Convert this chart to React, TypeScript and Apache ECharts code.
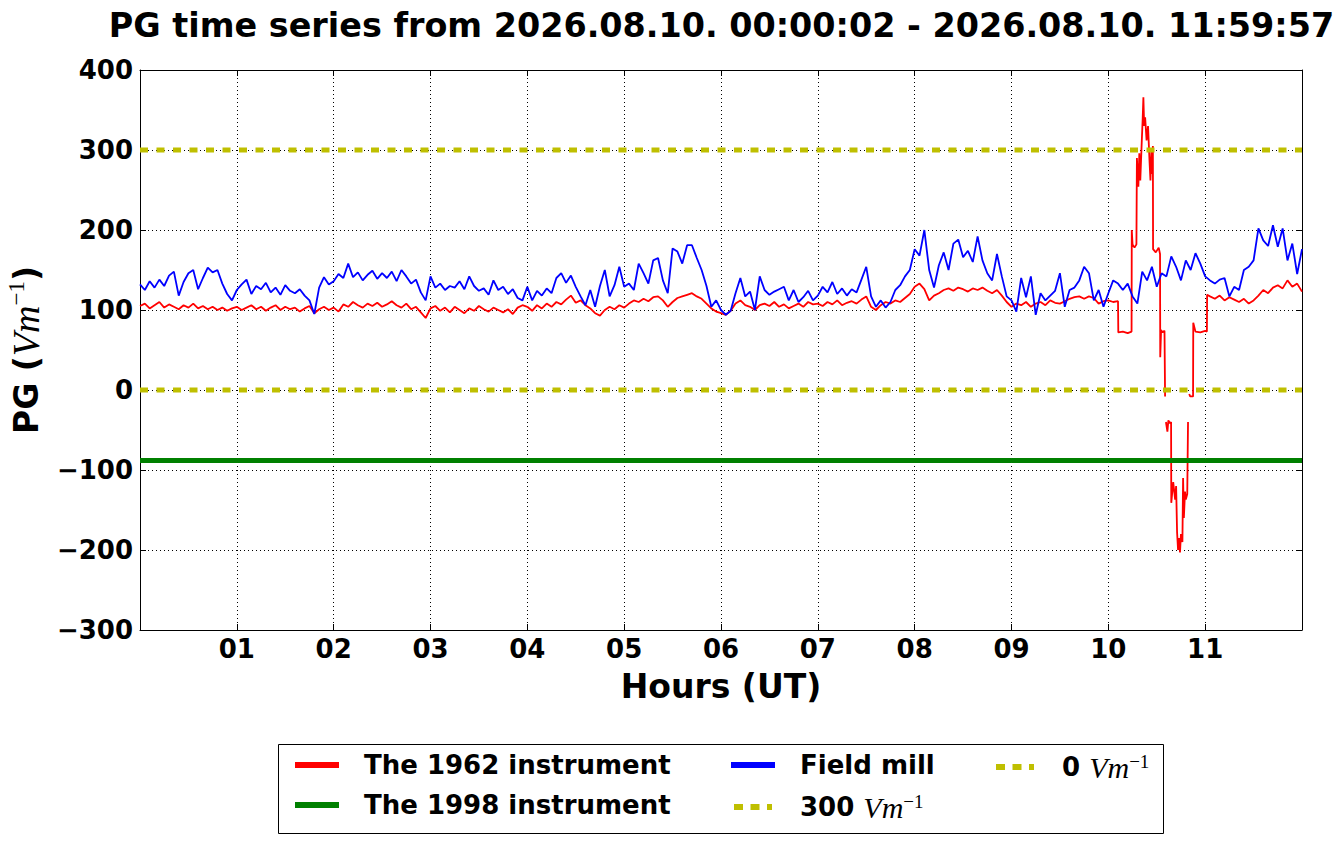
import React, { useEffect, useRef } from 'react';
import * as echarts from 'echarts';

const SANS = 'DejaVu Sans';
const SERIF = 'Liberation Serif';

const TITLE = 'PG time series from 2026.08.10. 00:00:02 - 2026.08.10. 11:59:57';
const hourLabels = ['01', '02', '03', '04', '05', '06', '07', '08', '09', '10', '11'];

// sampling step of the regular arrays: 3 minutes, in hours
const STEP_H = 0.05;

// Field mill, one array per hour (3-minute samples)
const blueH00 = [132, 125, 136, 128, 138, 130, 143, 148, 118, 135, 146, 150, 126, 140, 153, 147, 150, 133, 120, 112];
const blueH01 = [125, 132, 138, 120, 130, 126, 134, 122, 128, 119, 131, 124, 121, 126, 118, 112, 95, 128, 141, 132];
const blueH02 = [136, 145, 140, 158, 141, 147, 137, 144, 149, 139, 146, 140, 148, 136, 150, 142, 133, 138, 122, 112];
const blueH03 = [142, 128, 133, 125, 130, 128, 136, 126, 142, 130, 124, 127, 119, 137, 125, 129, 120, 126, 115, 112];
const blueH04 = [129, 112, 124, 118, 127, 121, 140, 146, 134, 143, 129, 117, 106, 125, 104, 130, 150, 117, 131, 154];
const blueH05 = [129, 133, 125, 158, 146, 133, 162, 165, 137, 121, 177, 173, 158, 181, 181, 165, 150, 130, 104, 112];
const blueH06 = [100, 94, 99, 121, 140, 117, 123, 100, 142, 125, 119, 123, 126, 129, 112, 125, 110, 116, 124, 112];
const blueH07 = [118, 129, 122, 135, 120, 127, 118, 126, 122, 138, 154, 117, 104, 112, 103, 110, 125, 131, 142, 150];
const blueH08 = [176, 168, 200, 150, 128, 156, 172, 150, 183, 188, 166, 174, 160, 192, 162, 146, 137, 170, 142, 117];
const blueH09 = [112, 98, 140, 116, 142, 94, 121, 112, 118, 124, 146, 104, 125, 128, 137, 154, 146, 112, 125, 104];
const blueH10 = [121, 137, 133, 125, 133, 117, 108, 148, 137, 154, 129, 146, 142, 167, 154, 137, 162, 150, 171, 158];
const blueH11 = [142, 137, 133, 138, 140, 117, 129, 125, 150, 154, 162, 202, 187, 180, 206, 179, 202, 162, 183, 145, 176];

// The 1962 instrument, regular part (3-minute samples from 00:00 to 10:05)
const redH00 = [105, 108, 102, 106, 110, 103, 107, 104, 101, 106, 103, 108, 102, 105, 101, 104, 100, 103, 99, 102];
const redH01 = [104, 100, 103, 106, 101, 104, 99, 103, 106, 100, 104, 101, 103, 98, 102, 105, 96, 101, 104, 100];
const redH02 = [103, 98, 107, 104, 110, 106, 103, 108, 105, 109, 104, 107, 111, 106, 103, 108, 101, 104, 97, 90];
const redH03 = [102, 105, 99, 103, 97, 104, 100, 96, 102, 99, 105, 101, 98, 103, 100, 97, 101, 95, 103, 106];
const redH04 = [104, 99, 106, 102, 108, 104, 110, 107, 113, 118, 109, 112, 106, 102, 96, 93, 100, 104, 101, 106];
const redH05 = [103, 108, 112, 110, 114, 111, 116, 117, 112, 104, 110, 115, 117, 119, 121, 117, 114, 108, 102, 98];
const redH06 = [96, 94, 99, 108, 112, 106, 104, 100, 106, 108, 105, 110, 104, 107, 102, 105, 108, 104, 110, 107];
const redH07 = [108, 105, 110, 107, 112, 106, 109, 111, 108, 113, 117, 104, 100, 106, 110, 108, 112, 110, 115, 120];
const redH08 = [129, 133, 126, 112, 118, 121, 125, 127, 124, 128, 126, 123, 127, 125, 128, 124, 121, 125, 118, 110];
const redH09 = [104, 108, 106, 110, 104, 108, 110, 106, 112, 109, 108, 111, 114, 116, 117, 114, 117, 115, 108, 111];
const redH10 = [112, 110];

// The 1962 instrument, disturbed interval [hour, value]; null = missing data
const redEvent: [number, number | null][] = [
  [10.1, 111], [10.103, 72], [10.15, 73], [10.2, 71], [10.24, 73], [10.242, 200], [10.25, 182],
  [10.27, 178], [10.29, 182], [10.295, 290], [10.31, 254], [10.32, 296], [10.33, 262], [10.345, 310],
  [10.355, 340], [10.362, 366], [10.37, 330], [10.38, 341], [10.395, 312], [10.41, 330], [10.425, 287],
  [10.435, 262], [10.445, 300], [10.455, 270], [10.46, 305], [10.462, 176], [10.49, 172], [10.52, 178],
  [10.534, 170], [10.536, 41], [10.545, 75], [10.56, 72], [10.58, 74], [10.586, -8], [10.59, null],
  [10.595, -40], [10.61, -52], [10.62, -38], [10.64, -42], [10.648, -40], [10.65, -141], [10.67, -115],
  [10.69, -137], [10.7, -120], [10.71, -178], [10.72, -200], [10.73, -185], [10.74, -203], [10.75, -180],
  [10.765, -190], [10.772, -110], [10.78, -160], [10.792, -127], [10.8, -137], [10.815, -130],
  [10.823, -40], [10.83, null], [10.835, -5], [10.845, -8], [10.875, -8], [10.877, 84], [10.9, 73],
  [10.95, 72], [11.0, 74], [11.018, 73], [11.02, 119],
];

// The 1962 instrument, after the disturbance (3-minute samples from 11:05 to 12:00)
const redLateStart = 11.05;
const redLate = [117, 114, 118, 112, 116, 113, 110, 114, 108, 112, 118, 125, 121, 128, 131, 127, 137, 129, 133, 123];

// The 1998 instrument and reference levels
const green1998 = -88;
const level300 = 300;
const level0 = 0;

const X_MIN = 0;
const X_MAX = 12;

const tToFixed = (t: number) => Math.round(t * 1000) / 1000;

function buildSeries() {
  const blueAll = [
    ...blueH00, ...blueH01, ...blueH02, ...blueH03, ...blueH04, ...blueH05,
    ...blueH06, ...blueH07, ...blueH08, ...blueH09, ...blueH10, ...blueH11,
  ];
  const blue = blueAll.map((v, i) => [tToFixed(i * STEP_H), v]);
  const redRegular = [
    ...redH00, ...redH01, ...redH02, ...redH03, ...redH04, ...redH05,
    ...redH06, ...redH07, ...redH08, ...redH09, ...redH10,
  ];
  const red: (number | null)[][] = redRegular.map((v, i) => [tToFixed(i * STEP_H), v]);
  redEvent.forEach((p) => red.push([p[0], p[1]]));
  redLate.forEach((v, i) => red.push([tToFixed(redLateStart + i * STEP_H), v]));
  return { blue, red };
}

const dashIcon =
  'path://M0,0h0.01v0.01h-0.01z M3,0h9v6h-9z M19.5,0h9v6h-9z M36,0h5v6h-5z M43.99,5.99h0.01v0.01h-0.01z';

const legendRich = {
  g: { width: 20, fontSize: 26, lineHeight: 30 },
  b: { fontFamily: SANS, fontWeight: 'bold', fontSize: 26, lineHeight: 30, color: '#000' },
  i: { fontFamily: SERIF, fontStyle: 'italic', fontWeight: 'normal', fontSize: 30, lineHeight: 30, color: '#000' },
  s: { fontFamily: SERIF, fontWeight: 'normal', fontSize: 19, lineHeight: 19, verticalAlign: 'top', color: '#000' },
};

const legendLabels: Record<string, string> = {
  'The 1962 instrument': '{g|}{b|The 1962 instrument}',
  'The 1998 instrument': '{g|}{b|The 1998 instrument}',
  'Field mill': '{g|}{b|Field mill}',
  '300 Vm-1': '{g|}{b|300 }{i|Vm}{s|\u22121}',
  '0 Vm-1': '{g|}{b|0 }{i|Vm}{s|\u22121}',
};

function makeLegend(name: string, color: string, icon: string, left: number, top: number) {
  return {
    data: [{ name, icon, itemStyle: { color, borderWidth: 0 } }],
    left,
    top,
    padding: 0,
    itemWidth: 44,
    itemHeight: 6,
    selectedMode: false,
    formatter: (n: string) => legendLabels[n] || n,
    textStyle: { rich: legendRich },
  };
}

export default function App() {
  const ref = useRef<HTMLDivElement>(null);

  useEffect(() => {
    document.body.style.margin = '0';
    const chart = echarts.init(ref.current!, null, { renderer: 'svg' });
    const { blue, red } = buildSeries();

    const commonX = {
      type: 'value',
      min: X_MIN,
      max: X_MAX,
      interval: 1,
    };
    const commonY = {
      type: 'value',
      min: -300,
      max: 400,
      interval: 100,
    };

    const option = {
      animation: false,
      backgroundColor: '#fff',
      textStyle: { fontFamily: SANS },
      title: {
        text: TITLE,
        left: 721.5,
        top: 9,
        padding: 0,
        textAlign: 'center',
        textVerticalAlign: 'top',
        textStyle: { fontFamily: SANS, fontWeight: 'bold', fontSize: 33.4, color: '#000' },
      },
      grid: {
        left: 140,
        top: 70,
        width: 1162,
        height: 560,
        containLabel: false,
        outerBoundsMode: 'none',
      },
      xAxis: [
        {
          ...commonX,
          position: 'bottom',
          name: 'Hours (UT)',
          nameLocation: 'middle',
          nameGap: 40,
          nameTextStyle: { fontFamily: SANS, fontWeight: 'bold', fontSize: 33, color: '#000' },
          axisLine: { show: true, onZero: false, lineStyle: { color: '#000', width: 1 } },
          axisTick: { show: true, inside: true, length: 6, lineStyle: { color: '#000', width: 1 } },
          axisLabel: {
            show: true,
            margin: 6,
            fontFamily: SANS,
            fontWeight: 'bold',
            fontSize: 26,
            color: '#000',
            formatter: (v: number) => (v >= 1 && v <= 11 ? hourLabels[Math.round(v) - 1] : ''),
          },
          splitLine: { show: true, lineStyle: { color: '#000', width: 1, type: [1, 3] } },
        },
        {
          ...commonX,
          position: 'top',
          axisLine: { show: true, onZero: false, lineStyle: { color: '#000', width: 1 } },
          axisTick: { show: true, inside: true, length: 6, lineStyle: { color: '#000', width: 1 } },
          axisLabel: { show: false },
          splitLine: { show: false },
        },
      ],
      yAxis: [
        {
          ...commonY,
          position: 'left',
          name: '{b|PG (}{i|Vm}{s|\u22121}{b|)}',
          nameLocation: 'middle',
          nameRotate: 90,
          nameGap: 93,
          nameTextStyle: {
            rich: {
              b: { fontFamily: SANS, fontWeight: 'bold', fontSize: 33, lineHeight: 42, color: '#000' },
              i: { fontFamily: SERIF, fontStyle: 'italic', fontSize: 38, lineHeight: 42, color: '#000' },
              s: { fontFamily: SERIF, fontSize: 23, lineHeight: 23, verticalAlign: 'top', color: '#000' },
            },
          },
          axisLine: { show: true, onZero: false, lineStyle: { color: '#000', width: 1 } },
          axisTick: { show: true, inside: true, length: 6, lineStyle: { color: '#000', width: 1 } },
          axisLabel: {
            show: true,
            margin: 7,
            fontFamily: SANS,
            fontWeight: 'bold',
            fontSize: 26,
            color: '#000',
            formatter: (v: number) => (v < 0 ? '\u2212' + Math.abs(v) : String(v)),
          },
          splitLine: { show: true, lineStyle: { color: '#000', width: 1, type: [1, 3] } },
        },
        {
          ...commonY,
          position: 'right',
          axisLine: { show: true, onZero: false, lineStyle: { color: '#000', width: 1 } },
          axisTick: { show: true, inside: true, length: 6, lineStyle: { color: '#000', width: 1 } },
          axisLabel: { show: false },
          splitLine: { show: false },
        },
      ],
      legend: [
        makeLegend('The 1962 instrument', '#ff0000', 'rect', 295, 752),
        makeLegend('The 1998 instrument', '#008000', 'rect', 295, 792),
        makeLegend('Field mill', '#0000ff', 'rect', 731, 752),
        makeLegend('300 Vm-1', '#bfbf00', dashIcon, 731, 792),
        makeLegend('0 Vm-1', '#bfbf00', dashIcon, 993, 752),
      ],
      graphic: [
        {
          type: 'rect',
          shape: { x: 278.5, y: 744.5, width: 885, height: 89 },
          style: { fill: 'none', stroke: '#000', lineWidth: 1 },
          silent: true,
        },
      ],
      series: [
        {
          name: 'The 1962 instrument',
          type: 'line',
          xAxisIndex: 0,
          yAxisIndex: 0,
          data: red,
          color: '#ff0000',
          showSymbol: false,
          symbol: 'none',
          connectNulls: false,
          lineStyle: { color: '#ff0000', width: 1.8 },
          silent: true,
        },
        {
          name: 'The 1998 instrument',
          type: 'line',
          data: [[X_MIN, green1998], [X_MAX, green1998]],
          color: '#008000',
          showSymbol: false,
          symbol: 'none',
          lineStyle: { color: '#008000', width: 5 },
          silent: true,
        },
        {
          name: 'Field mill',
          type: 'line',
          data: blue,
          color: '#0000ff',
          showSymbol: false,
          symbol: 'none',
          lineStyle: { color: '#0000ff', width: 1.8 },
          silent: true,
        },
        {
          name: '300 Vm-1',
          type: 'line',
          data: [[X_MIN, level300], [X_MAX, level300]],
          color: '#bfbf00',
          showSymbol: false,
          symbol: 'none',
          lineStyle: { color: '#bfbf00', width: 5, type: [8, 8.5] },
          silent: true,
        },
        {
          name: '0 Vm-1',
          type: 'line',
          data: [[X_MIN, level0], [X_MAX, level0]],
          color: '#bfbf00',
          showSymbol: false,
          symbol: 'none',
          lineStyle: { color: '#bfbf00', width: 5, type: [8, 8.5] },
          silent: true,
        },
      ],
    };

    chart.setOption(option as any);
    return () => chart.dispose();
  }, []);

  return <div ref={ref} style={{ width: 1341, height: 844 }} />;
}
